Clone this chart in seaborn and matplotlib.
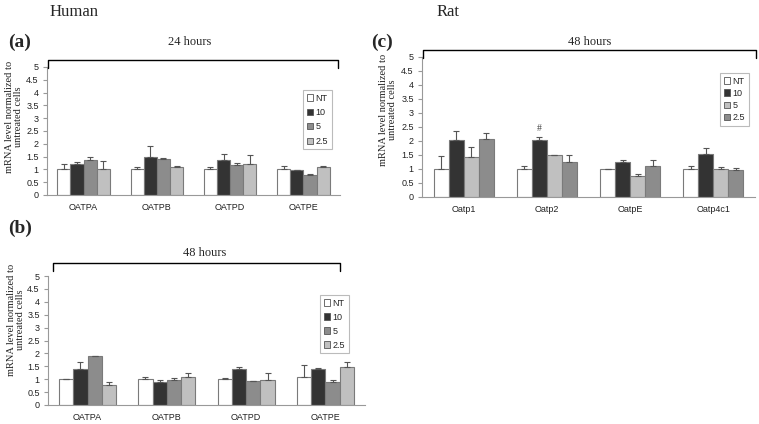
import matplotlib
matplotlib.use('Agg')
import matplotlib.pyplot as plt
import seaborn as sns
import pandas as pd
from matplotlib.lines import Line2D
from matplotlib.patches import Patch

doses = ['NT', '10', '5', '2.5']
human_genes = ['OATPA', 'OATPB', 'OATPD', 'OATPE']
rat_genes = ['Oatp1', 'Oatp2', 'OatpE', 'Oatp4c1']

# one row per dose (NT, 10, 5, 2.5), one column per gene
human24_mean = [[1.00, 1.00, 1.00, 1.03],
                [1.22, 1.47, 1.37, 0.97],
                [1.37, 1.40, 1.18, 0.77],
                [1.03, 1.10, 1.22, 1.10]]
human24_err = [[0.20, 0.10, 0.10, 0.10],
               [0.07, 0.45, 0.22, 0.02],
               [0.10, 0.03, 0.07, 0.05],
               [0.30, 0.03, 0.33, 0.05]]

human48_mean = [[1.00, 1.00, 1.00, 1.10],
                [1.38, 0.90, 1.38, 1.38],
                [1.88, 0.95, 0.92, 0.88],
                [0.78, 1.07, 0.95, 1.48]]
human48_err = [[0.02, 0.08, 0.05, 0.45],
               [0.30, 0.05, 0.08, 0.05],
               [0.02, 0.10, 0.00, 0.10],
               [0.10, 0.18, 0.30, 0.17]]

rat48_mean = [[1.00, 1.00, 1.00, 1.00],
              [2.03, 2.02, 1.25, 1.52],
              [1.42, 1.50, 0.75, 1.00],
              [2.07, 1.25, 1.10, 0.97]]
rat48_err = [[0.47, 0.10, 0.00, 0.10],
             [0.32, 0.13, 0.07, 0.23],
             [0.37, 0.00, 0.06, 0.07],
             [0.22, 0.25, 0.22, 0.07]]

human_colors = ['#ffffff', '#333333', '#8c8c8c', '#c0c0c0']
rat_colors = ['#ffffff', '#333333', '#c0c0c0', '#8c8c8c']

sns.set_style('white')
serif = 'Liberation Serif'
sans = 'Liberation Sans'

W, H = 759, 424
fig = plt.figure(figsize=(W / 100, H / 100), dpi=100)


def px_axes(x0, x1, y_top, y_bot):
    return fig.add_axes([x0 / W, 1 - y_bot / H, (x1 - x0) / W, (y_bot - y_top) / H])


def draw_panel(ax, genes, means, errs, colors, leg_box, label_y, label_x, spacing):
    df = pd.DataFrame({
        'gene': genes * len(doses),
        'dose': [d for d in doses for _ in genes],
        'value': [v for row in means for v in row],
    })
    sns.barplot(data=df, x='gene', y='value', hue='dose', order=genes, hue_order=doses,
                palette=colors, width=0.72, edgecolor='#7a7a7a', linewidth=0.8,
                errorbar=None, legend=False, ax=ax)
    for cont, err in zip(ax.containers, errs):
        xs = [p.get_x() + p.get_width() / 2 for p in cont]
        ys = [p.get_height() for p in cont]
        ax.errorbar(xs, ys, yerr=[[0] * len(err), err], fmt='none', ecolor='#555555',
                    elinewidth=0.8, capsize=2, capthick=0.8)
    ax.set_ylim(0, 5)
    ax.set_xlim(-0.5, len(genes) - 0.5)
    ax.set_yticks([i * 0.5 for i in range(11)])
    ax.set_yticklabels(['0', '0.5', '1', '1.5', '2', '2.5', '3', '3.5', '4', '4.5', '5'],
                       fontsize=6.5, family=sans, color='#222222')
    ax.set_xticks(range(len(genes)))
    ax.set_xticklabels(genes, fontsize=6.5, family=sans, color='#222222')
    ax.set_xticks([i - 0.5 for i in range(len(genes) + 1)], minor=True)
    ax.tick_params(axis='x', which='major', length=0, pad=6)
    ax.tick_params(axis='x', which='minor', length=3, color='#999999', direction='out')
    ax.tick_params(axis='y', length=3, color='#999999', direction='out', pad=3, left=True)
    for s in ['top', 'right']:
        ax.spines[s].set_visible(False)
    for s in ['left', 'bottom']:
        ax.spines[s].set_color('#999999')
        ax.spines[s].set_linewidth(0.8)
    ax.set_xlabel('')
    ax.set_ylabel('')
    ax.text(label_x, label_y, 'mRNA level normalized to\nuntreated cells', rotation=90,
            transform=ax.transAxes, ha='center', va='center', fontsize=7.5,
            family=serif, color='#222222', linespacing=1.05)
    handles = [Patch(facecolor=c, edgecolor='#555555', linewidth=0.6) for c in colors]
    x0, y0 = leg_box
    leg = ax.legend(handles, doses, loc='upper left', bbox_to_anchor=(x0 / W, 1 - y0 / H),
                    bbox_transform=fig.transFigure, handlelength=0.7,
                    handleheight=0.7, handletextpad=0.3, labelspacing=spacing,
                    borderpad=0.4, borderaxespad=0, fancybox=False, framealpha=1,
                    prop={'family': sans, 'size': 6.5})
    leg.get_frame().set_edgecolor('#bbbbbb')
    leg.get_frame().set_linewidth(0.8)


def bracket(x0, x1, y, drop=8):
    fig.add_artist(Line2D([x0 / W, x0 / W, x1 / W, x1 / W],
                          [1 - (y + drop) / H, 1 - y / H, 1 - y / H, 1 - (y + drop) / H],
                          color='black', lw=1.0))


ax_a = px_axes(47, 340, 67, 195)
draw_panel(ax_a, human_genes, human24_mean, human24_err, human_colors, (303, 90), 0.61, -0.112, 0.6)

ax_b = px_axes(48, 365, 276, 405)
draw_panel(ax_b, human_genes, human48_mean, human48_err, human_colors, (320, 295), 0.66, -0.10, 0.55)

ax_c = px_axes(422, 755, 57, 197)
draw_panel(ax_c, rat_genes, rat48_mean, rat48_err, rat_colors, (720, 73), 0.62, -0.102, 0.35)

# significance mark above Oatp2 (dose 10)
p = ax_c.containers[1][1]
ax_c.text(p.get_x() + p.get_width() / 2, rat48_mean[1][1] + rat48_err[1][1] + 0.15, '#',
          ha='center', va='bottom', fontsize=7, family=serif, color='#444444')

bracket(48, 338, 60)
bracket(53, 340, 263)
bracket(423, 756, 50)

fig.text(190 / W, 1 - 42 / H, '24 hours', ha='center', va='center', fontsize=9, family=serif)
fig.text(205 / W, 1 - 253 / H, '48 hours', ha='center', va='center', fontsize=9, family=serif)
fig.text(590 / W, 1 - 42 / H, '48 hours', ha='center', va='center', fontsize=9, family=serif)

fig.text(8 / W, 1 - 42 / H, '(a)', ha='left', va='center', fontsize=14, fontweight='bold', family=serif)
fig.text(8 / W, 1 - 228 / H, '(b)', ha='left', va='center', fontsize=14, fontweight='bold', family=serif)
fig.text(371 / W, 1 - 42 / H, '(c)', ha='left', va='center', fontsize=14, fontweight='bold', family=serif)

fig.text(50 / W, 1 - 12 / H, 'Human', ha='left', va='center', fontsize=12, family=serif)
fig.text(437 / W, 1 - 12 / H, 'Rat', ha='left', va='center', fontsize=12, family=serif)

fig.savefig('out.png', dpi=100)
